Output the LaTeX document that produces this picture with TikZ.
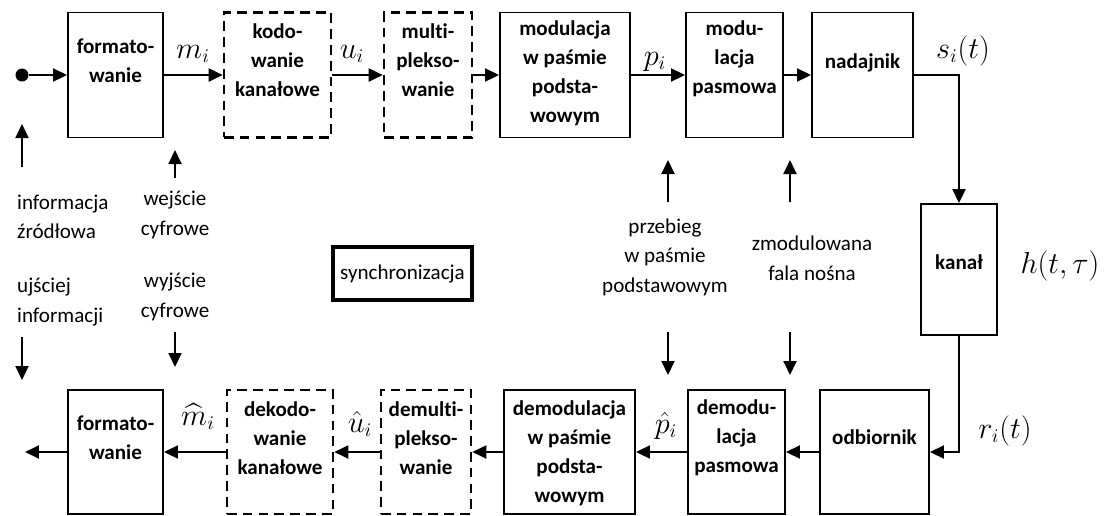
\documentclass[tikz,border=0pt]{standalone}
\usepackage{fontspec}
\setmainfont{Carlito}[Ligatures={NoCommon}]
\usepackage{amsmath}
\usetikzlibrary{arrows.meta}

\begin{document}
\begin{tikzpicture}[x=0.02cm,y=-0.02cm,
  blok/.style={draw,line width=1.1pt,inner sep=0pt},
  blokp/.style={blok,line width=1.5pt,dash pattern=on 5.5pt off 3.5pt},
  napis/.style={font=\bfseries\fontsize{12}{16.6}\selectfont,align=center},
  opis/.style={font=\fontsize{12}{16.8}\selectfont,align=center},
  mat/.style={font=\fontsize{16}{19}\selectfont,anchor=base,inner sep=0.5pt},
  strz/.style={line width=1.1pt,-{Triangle[length=0.28cm,width=0.26cm]}}]
  \useasboundingbox (0,0) rectangle (1109,515);

  % tor nadawczy
  \node[circle,fill,inner sep=0pt,minimum size=0.26cm] (zr) at (22,75) {};
  \node[blok,minimum width=1.90cm,minimum height=2.5cm] (fmtT) at (115.5,75) {};
  \node[blokp,minimum width=2.14cm,minimum height=2.5cm] (kodT) at (277.5,75) {};
  \node[blokp,minimum width=1.76cm,minimum height=2.5cm] (mulT) at (428,75) {};
  \node[blok,minimum width=2.60cm,minimum height=2.5cm] (modT) at (565,75) {};
  \node[blok,minimum width=1.94cm,minimum height=2.5cm] (pasT) at (734.5,75) {};
  \node[blok,minimum width=2.02cm,minimum height=2.5cm] (nad) at (862.5,75) {};
  \node[napis] at (115.5,61) {formato-\\wanie};
  \node[napis] at (277.5,60) {kodo-\\wanie\\kanałowe};
  \node[napis] at (428,60) {multi-\\plekso-\\wanie};
  \node[napis] at (565,73.5) {modulacja\\w paśmie\\podsta-\\wowym};
  \node[napis] at (734.5,59) {modu-\\lacja\\pasmowa};
  \node[napis] at (862.5,63) {nadajnik};

  % kanal
  \node[blok,minimum width=1.52cm,minimum height=2.62cm] (kanal) at (959,269.5) {};
  \node[napis] at (959,262) {kanał};

  % tor odbiorczy
  \node[blok,minimum width=1.90cm,minimum height=2.48cm] (fmtB) at (115.5,452) {};
  \node[blokp,minimum width=2.12cm,minimum height=2.48cm] (dkodB) at (280,452) {};
  \node[blokp,minimum width=1.80cm,minimum height=2.48cm] (demB) at (426,452) {};
  \node[blok,minimum width=2.62cm,minimum height=2.48cm] (dmodB) at (569.5,452) {};
  \node[blok,minimum width=1.94cm,minimum height=2.48cm] (dpasB) at (736.5,452) {};
  \node[blok,minimum width=2.18cm,minimum height=2.48cm] (odb) at (874.5,452) {};
  \node[napis] at (115.5,438) {formato-\\wanie};
  \node[napis] at (280,438) {dekodo-\\wanie\\kanałowe};
  \node[napis] at (426,438) {demulti-\\plekso-\\wanie};
  \node[napis] at (569.5,453) {demodulacja\\w paśmie\\podsta-\\wowym};
  \node[napis] at (736.5,438) {demodu-\\lacja\\pasmowa};
  \node[napis] at (874.5,437) {odbiornik};
  \coordinate (wyj) at (25,452);

  \node[blok,line width=2.8pt,minimum width=2.78cm,minimum height=1.06cm,
    font=\fontsize{12}{16.8}\selectfont] (sync) at (402.5,273.5) {synchronizacja};

  % sygnaly
  \node[mat] at (193,58) {$m_i$};
  \node[mat] at (352,58) {$u_i$};
  \node[mat] at (655,65) {$p_i$};
  \node[mat] at (963,58) {$s_i(t)$};
  \node[mat] at (1060,273) {$h(t,\tau)$};
  \node[mat] at (1005,438) {$r_i(t)$};
  \node[mat] at (198,425) {$\widehat{m}_i$};
  \node[mat] at (360,432) {$\hat{u}_i$};
  \node[mat] at (666,433) {$\hat{p}_i$};

  \node[opis,align=left,anchor=west] at (11,217) {informacja\\źródłowa};
  \node[opis] at (175,215) {wejście\\cyfrowe};
  \node[opis,align=left,anchor=west] at (11,302) {ujściej\\informacji};
  \node[opis] at (175,297) {wyjście\\cyfrowe};
  \node[opis] at (665,257) {przebieg\\w paśmie\\podstawowym};
  \node[opis] at (812,258) {zmodulowana\\fala nośna};

  \draw[strz] (zr) -- (fmtT);
  \draw[strz] (fmtT) -- (kodT);
  \draw[strz] (kodT) -- (mulT);
  \draw[strz] (mulT) -- (modT);
  \draw[strz] (modT) -- (pasT);
  \draw[strz] (pasT) -- (nad);
  \draw[strz] (nad) -| (kanal);
  \draw[strz] (kanal) |- (odb);
  \draw[strz] (odb) -- (dpasB);
  \draw[strz] (dpasB) -- (dmodB);
  \draw[strz] (dmodB) -- (demB);
  \draw[strz] (demB) -- (dkodB);
  \draw[strz] (dkodB) -- (fmtB);
  \draw[strz] (fmtB) -- (wyj);

  \foreach \x/\ya/\yb in {22/167/124,175/178/150,668/202/160,790/202/160,
                          22/337/380,175/332/367,668/332/375,790/332/375}
    \draw[strz] (\x,\ya) -- (\x,\yb);
\end{tikzpicture}
\end{document}
